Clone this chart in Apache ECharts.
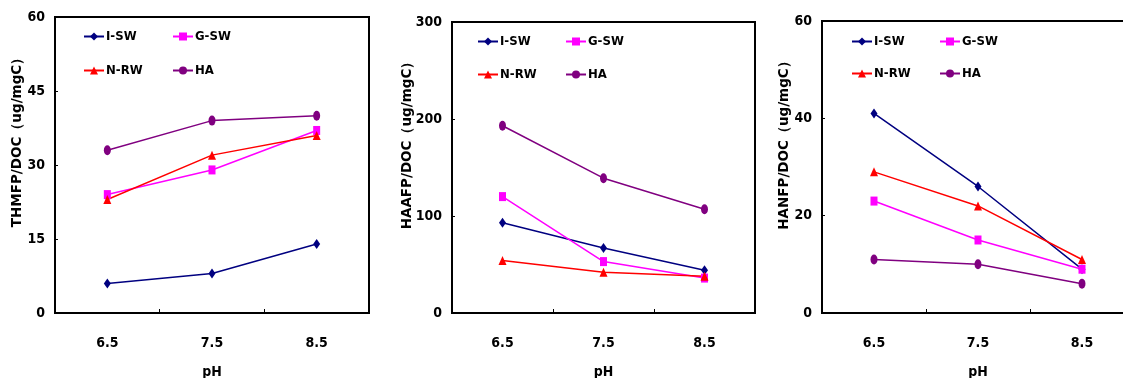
<!DOCTYPE html>
<html>
<head>
<meta charset="utf-8">
<script src="https://cdn.jsdelivr.net/npm/echarts@6/dist/echarts.min.js"></script>
<style>
html,body{margin:0;padding:0;background:#fff;overflow:hidden;}
#chart{width:1123px;height:378px;}
</style>
</head>
<body>
<div id="chart"></div>
<script>
// ---- data ----
const categories = ['6.5', '7.5', '8.5'];
const seriesNames = ['I-SW', 'G-SW', 'N-RW', 'HA'];

const thmISW = [6, 8, 14];
const thmGSW = [24, 29, 37];
const thmNRW = [23, 32, 36];
const thmHA  = [33, 39, 40];

const haaISW = [93, 67, 44];
const haaGSW = [120, 53, 36];
const haaNRW = [54, 42, 38];
const haaHA  = [193, 139, 107];

const hanISW = [41, 26, 9];
const hanGSW = [23, 15, 9];
const hanNRW = [29, 22, 11];
const hanHA  = [11, 10, 6];

const yTitles = ['THMFP/DOC（ug/mgC）', 'HAAFP/DOC（ug/mgC）', 'HANFP/DOC（ug/mgC）'];
const xTitle = 'pH';
const yMax = [60, 300, 60];
const yStep = [15, 100, 20];

// ---- style ----
const narrow = "'DejaVu Sans Condensed', 'Liberation Sans Narrow', sans-serif";
const colors = {'I-SW': '#000080', 'G-SW': '#FF00FF', 'N-RW': '#FF0000', 'HA': '#800080'};
const symbols = {'I-SW': 'diamond', 'G-SW': 'rect', 'N-RW': 'triangle', 'HA': 'circle'};
const symbolSizes = {'I-SW': [7, 10], 'G-SW': [7, 9], 'N-RW': [8, 9], 'HA': [7, 10]};

const grids = [
  {left: 55, top: 17, width: 314, height: 296},
  {left: 452, top: 22, width: 303, height: 291},
  {left: 822, top: 21, width: 312, height: 292}
];
const legendPos = [
  {x1: 83, x2: 172, y1: 38, y2: 72},
  {x1: 477, x2: 565, y1: 43, y2: 76},
  {x1: 851, x2: 939, y1: 43, y2: 75}
];
const yTitlePos = [[17, 139], [407, 142], [784, 142]];

const panelData = [
  [thmISW, thmGSW, thmNRW, thmHA],
  [haaISW, haaGSW, haaNRW, haaHA],
  [hanISW, hanGSW, hanNRW, hanHA]
];

const option = {
  backgroundColor: '#fff',
  animation: false,
  grid: grids.map(g => Object.assign({
    show: true, borderColor: '#000', borderWidth: 2, backgroundColor: 'transparent',
    containLabel: false, outerBoundsMode: 'none'
  }, g)),
  xAxis: grids.map((g, i) => ({
    type: 'category',
    gridIndex: i,
    data: categories,
    boundaryGap: true,
    axisLine: {lineStyle: {color: '#000', width: 2}},
    axisTick: {show: true, inside: true, length: 4, lineStyle: {color: '#000', width: 1}},
    axisLabel: {margin: 23, color: '#000', fontSize: 14, fontFamily: narrow, fontWeight: 'bold'},
    name: xTitle,
    nameLocation: 'middle',
    nameGap: 52,
    nameTextStyle: {color: '#000', fontSize: 14, fontFamily: narrow, fontWeight: 'bold'},
    splitLine: {show: false}
  })),
  yAxis: grids.map((g, i) => ({
    type: 'value',
    gridIndex: i,
    min: 0,
    max: yMax[i],
    interval: yStep[i],
    axisLine: {show: true, lineStyle: {color: '#000', width: 2}},
    axisTick: {show: true, inside: true, length: 3, lineStyle: {color: '#000', width: 1}},
    axisLabel: {margin: 10, color: '#000', fontSize: 14, fontFamily: narrow, fontWeight: 'bold'},
    splitLine: {show: false}
  })),
  legend: [],
  graphic: yTitles.map((t, i) => ({
    type: 'text',
    x: yTitlePos[i][0],
    y: yTitlePos[i][1],
    rotation: Math.PI / 2,
    style: {
      text: t,
      fill: '#000',
      font: "bold 13.5px 'DejaVu Sans', sans-serif",
      textAlign: 'center',
      textVerticalAlign: 'middle'
    }
  })),
  series: []
};

panelData.forEach((arrs, p) => {
  arrs.forEach((vals, k) => {
    const name = seriesNames[k];
    option.series.push({
      name: name,
      type: 'line',
      xAxisIndex: p,
      yAxisIndex: p,
      data: vals,
      symbol: symbols[name],
      symbolSize: symbolSizes[name],
      showAllSymbol: true,
      lineStyle: {color: colors[name], width: 1.5},
      itemStyle: {color: colors[name]}
    });
  });
  const lp = legendPos[p];
  const pos = [[lp.x1, lp.y1], [lp.x2, lp.y1], [lp.x1, lp.y2], [lp.x2, lp.y2]];
  seriesNames.forEach((n, k) => {
    option.legend.push({
      data: [n],
      left: pos[k][0],
      top: pos[k][1] - 8,
      padding: 0,
      itemWidth: 20,
      itemHeight: 10,
      itemGap: 0,
      selectedMode: false,
      textStyle: {color: '#000', fontSize: 13, fontFamily: narrow, fontWeight: 'bold', padding: [0, 0, 0, -3]}
    });
  });
});

const chart = echarts.init(document.getElementById('chart'), null, {renderer: 'canvas'});
chart.setOption(option);
</script>
</body>
</html>
